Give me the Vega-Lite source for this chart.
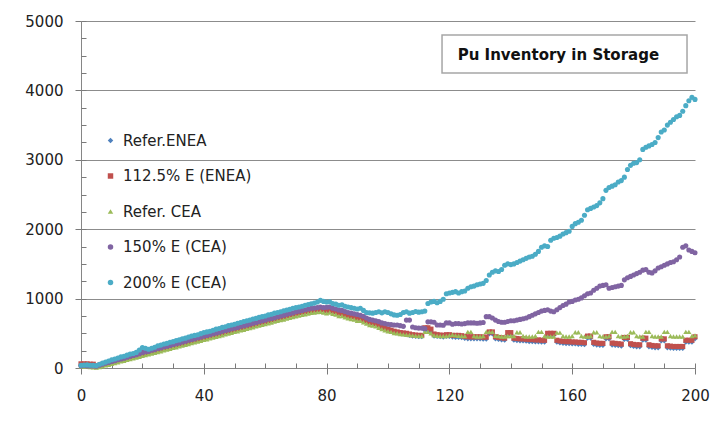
{
"$schema": "https://vega.github.io/schema/vega-lite/v6.json",
"width": 614, "height": 347,
"autosize": {"type": "none"},
"padding": {"left": 81, "top": 21, "right": 20, "bottom": 63},
"background": "white",
"config": {"view": {"stroke": null}, "font": "DejaVu Sans"},
"datasets": {
"refEnea": [{"t":0,"v":40},{"t":1,"v":40},{"t":2,"v":38},{"t":3,"v":35},{"t":4,"v":30},{"t":5,"v":20},{"t":6,"v":35},{"t":7,"v":48},{"t":8,"v":60},{"t":9,"v":72},
{"t":10,"v":85},{"t":11,"v":97},{"t":12,"v":108},{"t":13,"v":120},{"t":14,"v":132},{"t":15,"v":144},{"t":16,"v":155},{"t":17,"v":167},{"t":18,"v":180},{"t":19,"v":192},
{"t":20,"v":203},{"t":21,"v":212},{"t":22,"v":222},{"t":23,"v":235},{"t":24,"v":246},{"t":25,"v":258},{"t":26,"v":270},{"t":27,"v":280},{"t":28,"v":292},{"t":29,"v":304},
{"t":30,"v":315},{"t":31,"v":327},{"t":32,"v":340},{"t":33,"v":350},{"t":34,"v":362},{"t":35,"v":375},{"t":36,"v":385},{"t":37,"v":397},{"t":38,"v":410},{"t":39,"v":420},
{"t":40,"v":432},{"t":41,"v":444},{"t":42,"v":455},{"t":43,"v":467},{"t":44,"v":480},{"t":45,"v":490},{"t":46,"v":502},{"t":47,"v":514},{"t":48,"v":525},{"t":49,"v":537},
{"t":50,"v":550},{"t":51,"v":560},{"t":52,"v":572},{"t":53,"v":584},{"t":54,"v":595},{"t":55,"v":607},{"t":56,"v":620},{"t":57,"v":630},{"t":58,"v":642},{"t":59,"v":655},
{"t":60,"v":665},{"t":61,"v":677},{"t":62,"v":690},{"t":63,"v":700},{"t":64,"v":712},{"t":65,"v":725},{"t":66,"v":735},{"t":67,"v":747},{"t":68,"v":760},{"t":69,"v":770},
{"t":70,"v":782},{"t":71,"v":795},{"t":72,"v":800},{"t":73,"v":810},{"t":74,"v":815},{"t":75,"v":825},{"t":76,"v":830},{"t":77,"v":835},{"t":78,"v":845},{"t":79,"v":835},
{"t":80,"v":825},{"t":81,"v":835},{"t":82,"v":815},{"t":83,"v":800},{"t":84,"v":785},{"t":85,"v":780},{"t":86,"v":760},{"t":87,"v":750},{"t":88,"v":735},{"t":89,"v":730},
{"t":90,"v":710},{"t":91,"v":705},{"t":92,"v":690},{"t":93,"v":670},{"t":94,"v":650},{"t":95,"v":640},{"t":96,"v":625},{"t":97,"v":605},{"t":98,"v":585},{"t":99,"v":565},
{"t":100,"v":545},{"t":101,"v":530},{"t":102,"v":515},{"t":103,"v":505},{"t":104,"v":495},{"t":105,"v":490},{"t":106,"v":480},{"t":107,"v":470},{"t":108,"v":460},{"t":109,"v":455},
{"t":110,"v":450},{"t":111,"v":450},{"t":112,"v":540},{"t":113,"v":540},{"t":114,"v":520},{"t":115,"v":460},{"t":116,"v":455},{"t":117,"v":450},{"t":118,"v":445},{"t":119,"v":455},
{"t":120,"v":455},{"t":121,"v":445},{"t":122,"v":440},{"t":123,"v":440},{"t":124,"v":435},{"t":125,"v":425},{"t":126,"v":420},{"t":127,"v":420},{"t":128,"v":420},{"t":129,"v":420},
{"t":130,"v":420},{"t":131,"v":415},{"t":132,"v":415},{"t":133,"v":490},{"t":134,"v":490},{"t":135,"v":420},{"t":136,"v":410},{"t":137,"v":405},{"t":138,"v":400},{"t":139,"v":480},
{"t":140,"v":480},{"t":141,"v":400},{"t":142,"v":395},{"t":143,"v":390},{"t":144,"v":390},{"t":145,"v":385},{"t":146,"v":380},{"t":147,"v":380},{"t":148,"v":375},{"t":149,"v":375},
{"t":150,"v":370},{"t":151,"v":370},{"t":152,"v":470},{"t":153,"v":470},{"t":154,"v":470},{"t":155,"v":370},{"t":156,"v":360},{"t":157,"v":355},{"t":158,"v":350},{"t":159,"v":350},
{"t":160,"v":345},{"t":161,"v":345},{"t":162,"v":340},{"t":163,"v":340},{"t":164,"v":335},{"t":165,"v":430},{"t":166,"v":430},{"t":167,"v":340},{"t":168,"v":330},{"t":169,"v":325},
{"t":170,"v":325},{"t":171,"v":420},{"t":172,"v":420},{"t":173,"v":330},{"t":174,"v":325},{"t":175,"v":320},{"t":176,"v":315},{"t":177,"v":410},{"t":178,"v":410},{"t":179,"v":320},
{"t":180,"v":310},{"t":181,"v":305},{"t":182,"v":305},{"t":183,"v":400},{"t":184,"v":400},{"t":185,"v":305},{"t":186,"v":295},{"t":187,"v":290},{"t":188,"v":290},{"t":189,"v":390},
{"t":190,"v":390},{"t":191,"v":290},{"t":192,"v":285},{"t":193,"v":280},{"t":194,"v":280},{"t":195,"v":280},{"t":196,"v":280},{"t":197,"v":370},{"t":198,"v":370},{"t":199,"v":370},
{"t":200,"v":420}],
"e1125": [{"t":0,"v":60},{"t":1,"v":60},{"t":2,"v":60},{"t":3,"v":55},{"t":4,"v":55},{"t":5,"v":30},{"t":6,"v":40},{"t":7,"v":52},{"t":8,"v":65},{"t":9,"v":78},
{"t":10,"v":90},{"t":11,"v":100},{"t":12,"v":112},{"t":13,"v":125},{"t":14,"v":135},{"t":15,"v":148},{"t":16,"v":160},{"t":17,"v":170},{"t":18,"v":185},{"t":19,"v":200},
{"t":20,"v":210},{"t":21,"v":215},{"t":22,"v":225},{"t":23,"v":240},{"t":24,"v":250},{"t":25,"v":262},{"t":26,"v":275},{"t":27,"v":285},{"t":28,"v":298},{"t":29,"v":310},
{"t":30,"v":320},{"t":31,"v":332},{"t":32,"v":345},{"t":33,"v":355},{"t":34,"v":368},{"t":35,"v":380},{"t":36,"v":390},{"t":37,"v":402},{"t":38,"v":415},{"t":39,"v":425},
{"t":40,"v":438},{"t":41,"v":450},{"t":42,"v":460},{"t":43,"v":472},{"t":44,"v":485},{"t":45,"v":495},{"t":46,"v":508},{"t":47,"v":520},{"t":48,"v":530},{"t":49,"v":542},
{"t":50,"v":555},{"t":51,"v":565},{"t":52,"v":578},{"t":53,"v":590},{"t":54,"v":600},{"t":55,"v":612},{"t":56,"v":625},{"t":57,"v":635},{"t":58,"v":648},{"t":59,"v":660},
{"t":60,"v":670},{"t":61,"v":682},{"t":62,"v":695},{"t":63,"v":705},{"t":64,"v":718},{"t":65,"v":730},{"t":66,"v":740},{"t":67,"v":752},{"t":68,"v":765},{"t":69,"v":775},
{"t":70,"v":788},{"t":71,"v":800},{"t":72,"v":805},{"t":73,"v":815},{"t":74,"v":820},{"t":75,"v":830},{"t":76,"v":835},{"t":77,"v":840},{"t":78,"v":850},{"t":79,"v":840},
{"t":80,"v":830},{"t":81,"v":845},{"t":82,"v":820},{"t":83,"v":810},{"t":84,"v":790},{"t":85,"v":790},{"t":86,"v":770},{"t":87,"v":760},{"t":88,"v":745},{"t":89,"v":740},
{"t":90,"v":720},{"t":91,"v":720},{"t":92,"v":700},{"t":93,"v":680},{"t":94,"v":660},{"t":95,"v":650},{"t":96,"v":640},{"t":97,"v":620},{"t":98,"v":600},{"t":99,"v":580},
{"t":100,"v":560},{"t":101,"v":545},{"t":102,"v":530},{"t":103,"v":520},{"t":104,"v":510},{"t":105,"v":505},{"t":106,"v":500},{"t":107,"v":490},{"t":108,"v":480},{"t":109,"v":475},
{"t":110,"v":470},{"t":111,"v":470},{"t":112,"v":580},{"t":113,"v":580},{"t":114,"v":560},{"t":115,"v":490},{"t":116,"v":480},{"t":117,"v":475},{"t":118,"v":470},{"t":119,"v":480},
{"t":120,"v":480},{"t":121,"v":470},{"t":122,"v":470},{"t":123,"v":470},{"t":124,"v":465},{"t":125,"v":455},{"t":126,"v":450},{"t":127,"v":450},{"t":128,"v":450},{"t":129,"v":450},
{"t":130,"v":450},{"t":131,"v":445},{"t":132,"v":445},{"t":133,"v":520},{"t":134,"v":520},{"t":135,"v":450},{"t":136,"v":440},{"t":137,"v":435},{"t":138,"v":430},{"t":139,"v":510},
{"t":140,"v":510},{"t":141,"v":430},{"t":142,"v":425},{"t":143,"v":420},{"t":144,"v":420},{"t":145,"v":415},{"t":146,"v":410},{"t":147,"v":410},{"t":148,"v":405},{"t":149,"v":405},
{"t":150,"v":400},{"t":151,"v":400},{"t":152,"v":500},{"t":153,"v":500},{"t":154,"v":500},{"t":155,"v":400},{"t":156,"v":390},{"t":157,"v":385},{"t":158,"v":380},{"t":159,"v":380},
{"t":160,"v":375},{"t":161,"v":375},{"t":162,"v":370},{"t":163,"v":370},{"t":164,"v":365},{"t":165,"v":460},{"t":166,"v":460},{"t":167,"v":370},{"t":168,"v":360},{"t":169,"v":355},
{"t":170,"v":355},{"t":171,"v":450},{"t":172,"v":450},{"t":173,"v":360},{"t":174,"v":355},{"t":175,"v":350},{"t":176,"v":345},{"t":177,"v":440},{"t":178,"v":440},{"t":179,"v":350},
{"t":180,"v":340},{"t":181,"v":335},{"t":182,"v":335},{"t":183,"v":430},{"t":184,"v":430},{"t":185,"v":335},{"t":186,"v":325},{"t":187,"v":320},{"t":188,"v":320},{"t":189,"v":420},
{"t":190,"v":420},{"t":191,"v":320},{"t":192,"v":315},{"t":193,"v":310},{"t":194,"v":310},{"t":195,"v":310},{"t":196,"v":310},{"t":197,"v":400},{"t":198,"v":400},{"t":199,"v":400},
{"t":200,"v":450}],
"refCea": [{"t":0,"v":20},{"t":1,"v":20},{"t":2,"v":18},{"t":3,"v":15},{"t":4,"v":12},{"t":5,"v":5},{"t":6,"v":15},{"t":7,"v":25},{"t":8,"v":38},{"t":9,"v":48},
{"t":10,"v":60},{"t":11,"v":70},{"t":12,"v":82},{"t":13,"v":95},{"t":14,"v":105},{"t":15,"v":118},{"t":16,"v":128},{"t":17,"v":140},{"t":18,"v":150},{"t":19,"v":162},
{"t":20,"v":175},{"t":21,"v":185},{"t":22,"v":198},{"t":23,"v":208},{"t":24,"v":220},{"t":25,"v":230},{"t":26,"v":242},{"t":27,"v":255},{"t":28,"v":265},{"t":29,"v":278},
{"t":30,"v":290},{"t":31,"v":300},{"t":32,"v":312},{"t":33,"v":322},{"t":34,"v":335},{"t":35,"v":345},{"t":36,"v":358},{"t":37,"v":370},{"t":38,"v":380},{"t":39,"v":392},
{"t":40,"v":405},{"t":41,"v":415},{"t":42,"v":428},{"t":43,"v":440},{"t":44,"v":450},{"t":45,"v":462},{"t":46,"v":472},{"t":47,"v":485},{"t":48,"v":495},{"t":49,"v":508},
{"t":50,"v":520},{"t":51,"v":530},{"t":52,"v":542},{"t":53,"v":552},{"t":54,"v":565},{"t":55,"v":575},{"t":56,"v":588},{"t":57,"v":600},{"t":58,"v":610},{"t":59,"v":622},
{"t":60,"v":632},{"t":61,"v":645},{"t":62,"v":655},{"t":63,"v":668},{"t":64,"v":680},{"t":65,"v":690},{"t":66,"v":700},{"t":67,"v":712},{"t":68,"v":722},{"t":69,"v":735},
{"t":70,"v":745},{"t":71,"v":755},{"t":72,"v":765},{"t":73,"v":775},{"t":74,"v":785},{"t":75,"v":795},{"t":76,"v":800},{"t":77,"v":805},{"t":78,"v":810},{"t":79,"v":800},
{"t":80,"v":790},{"t":81,"v":800},{"t":82,"v":780},{"t":83,"v":770},{"t":84,"v":750},{"t":85,"v":750},{"t":86,"v":730},{"t":87,"v":715},{"t":88,"v":705},{"t":89,"v":700},
{"t":90,"v":680},{"t":91,"v":680},{"t":92,"v":660},{"t":93,"v":640},{"t":94,"v":620},{"t":95,"v":610},{"t":96,"v":600},{"t":97,"v":580},{"t":98,"v":560},{"t":99,"v":545},
{"t":100,"v":530},{"t":101,"v":520},{"t":102,"v":505},{"t":103,"v":500},{"t":104,"v":490},{"t":105,"v":485},{"t":106,"v":480},{"t":107,"v":475},{"t":108,"v":470},{"t":109,"v":465},
{"t":110,"v":460},{"t":111,"v":460},{"t":112,"v":520},{"t":113,"v":520},{"t":114,"v":500},{"t":115,"v":470},{"t":116,"v":465},{"t":117,"v":460},{"t":118,"v":460},{"t":119,"v":460},
{"t":120,"v":470},{"t":121,"v":480},{"t":122,"v":470},{"t":123,"v":465},{"t":124,"v":460},{"t":125,"v":460},{"t":126,"v":520},{"t":127,"v":520},{"t":128,"v":460},{"t":129,"v":455},
{"t":130,"v":455},{"t":131,"v":460},{"t":132,"v":520},{"t":133,"v":520},{"t":134,"v":520},{"t":135,"v":465},{"t":136,"v":460},{"t":137,"v":455},{"t":138,"v":455},{"t":139,"v":460},
{"t":140,"v":460},{"t":141,"v":460},{"t":142,"v":515},{"t":143,"v":515},{"t":144,"v":460},{"t":145,"v":455},{"t":146,"v":455},{"t":147,"v":455},{"t":148,"v":460},{"t":149,"v":520},
{"t":150,"v":520},{"t":151,"v":460},{"t":152,"v":455},{"t":153,"v":455},{"t":154,"v":455},{"t":155,"v":510},{"t":156,"v":510},{"t":157,"v":460},{"t":158,"v":455},{"t":159,"v":455},
{"t":160,"v":460},{"t":161,"v":515},{"t":162,"v":515},{"t":163,"v":460},{"t":164,"v":455},{"t":165,"v":455},{"t":166,"v":460},{"t":167,"v":515},{"t":168,"v":515},{"t":169,"v":460},
{"t":170,"v":455},{"t":171,"v":455},{"t":172,"v":460},{"t":173,"v":520},{"t":174,"v":520},{"t":175,"v":460},{"t":176,"v":455},{"t":177,"v":455},{"t":178,"v":460},{"t":179,"v":515},
{"t":180,"v":515},{"t":181,"v":460},{"t":182,"v":455},{"t":183,"v":455},{"t":184,"v":520},{"t":185,"v":520},{"t":186,"v":460},{"t":187,"v":455},{"t":188,"v":455},{"t":189,"v":455},
{"t":190,"v":520},{"t":191,"v":520},{"t":192,"v":460},{"t":193,"v":455},{"t":194,"v":455},{"t":195,"v":455},{"t":196,"v":455},{"t":197,"v":520},{"t":198,"v":520},{"t":199,"v":460},
{"t":200,"v":470}],
"e150": [{"t":0,"v":30},{"t":1,"v":35},{"t":2,"v":30},{"t":3,"v":30},{"t":4,"v":28},{"t":5,"v":25},{"t":6,"v":40},{"t":7,"v":55},{"t":8,"v":68},{"t":9,"v":80},
{"t":10,"v":95},{"t":11,"v":105},{"t":12,"v":118},{"t":13,"v":130},{"t":14,"v":140},{"t":15,"v":155},{"t":16,"v":168},{"t":17,"v":180},{"t":18,"v":190},{"t":19,"v":205},
{"t":20,"v":225},{"t":21,"v":235},{"t":22,"v":240},{"t":23,"v":255},{"t":24,"v":265},{"t":25,"v":280},{"t":26,"v":290},{"t":27,"v":305},{"t":28,"v":315},{"t":29,"v":325},
{"t":30,"v":340},{"t":31,"v":350},{"t":32,"v":360},{"t":33,"v":375},{"t":34,"v":385},{"t":35,"v":400},{"t":36,"v":410},{"t":37,"v":420},{"t":38,"v":435},{"t":39,"v":445},
{"t":40,"v":460},{"t":41,"v":470},{"t":42,"v":480},{"t":43,"v":495},{"t":44,"v":505},{"t":45,"v":515},{"t":46,"v":530},{"t":47,"v":540},{"t":48,"v":550},{"t":49,"v":565},
{"t":50,"v":575},{"t":51,"v":585},{"t":52,"v":600},{"t":53,"v":610},{"t":54,"v":620},{"t":55,"v":635},{"t":56,"v":645},{"t":57,"v":655},{"t":58,"v":670},{"t":59,"v":680},
{"t":60,"v":690},{"t":61,"v":705},{"t":62,"v":715},{"t":63,"v":725},{"t":64,"v":740},{"t":65,"v":750},{"t":66,"v":760},{"t":67,"v":775},{"t":68,"v":785},{"t":69,"v":795},
{"t":70,"v":810},{"t":71,"v":820},{"t":72,"v":830},{"t":73,"v":840},{"t":74,"v":850},{"t":75,"v":860},{"t":76,"v":865},{"t":77,"v":870},{"t":78,"v":880},{"t":79,"v":870},
{"t":80,"v":875},{"t":81,"v":880},{"t":82,"v":860},{"t":83,"v":850},{"t":84,"v":835},{"t":85,"v":830},{"t":86,"v":815},{"t":87,"v":800},{"t":88,"v":790},{"t":89,"v":780},
{"t":90,"v":770},{"t":91,"v":760},{"t":92,"v":745},{"t":93,"v":720},{"t":94,"v":700},{"t":95,"v":690},{"t":96,"v":680},{"t":97,"v":670},{"t":98,"v":650},{"t":99,"v":640},
{"t":100,"v":630},{"t":101,"v":625},{"t":102,"v":620},{"t":103,"v":620},{"t":104,"v":610},{"t":105,"v":600},{"t":106,"v":690},{"t":107,"v":690},{"t":108,"v":590},{"t":109,"v":580},
{"t":110,"v":575},{"t":111,"v":575},{"t":112,"v":570},{"t":113,"v":665},{"t":114,"v":665},{"t":115,"v":660},{"t":116,"v":620},{"t":117,"v":620},{"t":118,"v":615},{"t":119,"v":650},
{"t":120,"v":650},{"t":121,"v":630},{"t":122,"v":640},{"t":123,"v":640},{"t":124,"v":635},{"t":125,"v":640},{"t":126,"v":650},{"t":127,"v":650},{"t":128,"v":650},{"t":129,"v":645},
{"t":130,"v":650},{"t":131,"v":655},{"t":132,"v":740},{"t":133,"v":740},{"t":134,"v":720},{"t":135,"v":690},{"t":136,"v":670},{"t":137,"v":660},{"t":138,"v":660},{"t":139,"v":670},
{"t":140,"v":680},{"t":141,"v":680},{"t":142,"v":690},{"t":143,"v":700},{"t":144,"v":710},{"t":145,"v":720},{"t":146,"v":740},{"t":147,"v":760},{"t":148,"v":780},{"t":149,"v":800},
{"t":150,"v":820},{"t":151,"v":830},{"t":152,"v":840},{"t":153,"v":820},{"t":154,"v":810},{"t":155,"v":840},{"t":156,"v":870},{"t":157,"v":900},{"t":158,"v":920},{"t":159,"v":950},
{"t":160,"v":960},{"t":161,"v":980},{"t":162,"v":990},{"t":163,"v":1010},{"t":164,"v":1040},{"t":165,"v":1070},{"t":166,"v":1080},{"t":167,"v":1120},{"t":168,"v":1150},{"t":169,"v":1180},
{"t":170,"v":1190},{"t":171,"v":1200},{"t":172,"v":1150},{"t":173,"v":1160},{"t":174,"v":1170},{"t":175,"v":1180},{"t":176,"v":1190},{"t":177,"v":1270},{"t":178,"v":1300},{"t":179,"v":1320},
{"t":180,"v":1340},{"t":181,"v":1360},{"t":182,"v":1380},{"t":183,"v":1410},{"t":184,"v":1420},{"t":185,"v":1380},{"t":186,"v":1370},{"t":187,"v":1400},{"t":188,"v":1440},{"t":189,"v":1460},
{"t":190,"v":1480},{"t":191,"v":1500},{"t":192,"v":1520},{"t":193,"v":1530},{"t":194,"v":1560},{"t":195,"v":1600},{"t":196,"v":1740},{"t":197,"v":1760},{"t":198,"v":1700},{"t":199,"v":1680},
{"t":200,"v":1660}],
"e200": [{"t":0,"v":40},{"t":1,"v":42},{"t":2,"v":45},{"t":3,"v":40},{"t":4,"v":38},{"t":5,"v":35},{"t":6,"v":55},{"t":7,"v":70},{"t":8,"v":85},{"t":9,"v":100},
{"t":10,"v":118},{"t":11,"v":130},{"t":12,"v":145},{"t":13,"v":160},{"t":14,"v":170},{"t":15,"v":185},{"t":16,"v":200},{"t":17,"v":210},{"t":18,"v":225},{"t":19,"v":260},
{"t":20,"v":295},{"t":21,"v":285},{"t":22,"v":270},{"t":23,"v":285},{"t":24,"v":300},{"t":25,"v":320},{"t":26,"v":330},{"t":27,"v":345},{"t":28,"v":355},{"t":29,"v":370},
{"t":30,"v":380},{"t":31,"v":395},{"t":32,"v":405},{"t":33,"v":420},{"t":34,"v":430},{"t":35,"v":445},{"t":36,"v":460},{"t":37,"v":470},{"t":38,"v":480},{"t":39,"v":495},
{"t":40,"v":510},{"t":41,"v":520},{"t":42,"v":530},{"t":43,"v":545},{"t":44,"v":560},{"t":45,"v":570},{"t":46,"v":585},{"t":47,"v":595},{"t":48,"v":610},{"t":49,"v":620},
{"t":50,"v":630},{"t":51,"v":645},{"t":52,"v":655},{"t":53,"v":670},{"t":54,"v":680},{"t":55,"v":690},{"t":56,"v":705},{"t":57,"v":715},{"t":58,"v":730},{"t":59,"v":740},
{"t":60,"v":750},{"t":61,"v":765},{"t":62,"v":775},{"t":63,"v":790},{"t":64,"v":800},{"t":65,"v":810},{"t":66,"v":825},{"t":67,"v":835},{"t":68,"v":845},{"t":69,"v":860},
{"t":70,"v":870},{"t":71,"v":880},{"t":72,"v":890},{"t":73,"v":905},{"t":74,"v":915},{"t":75,"v":925},{"t":76,"v":935},{"t":77,"v":950},{"t":78,"v":975},{"t":79,"v":960},
{"t":80,"v":950},{"t":81,"v":955},{"t":82,"v":930},{"t":83,"v":920},{"t":84,"v":905},{"t":85,"v":910},{"t":86,"v":890},{"t":87,"v":880},{"t":88,"v":870},{"t":89,"v":860},
{"t":90,"v":850},{"t":91,"v":860},{"t":92,"v":830},{"t":93,"v":800},{"t":94,"v":795},{"t":95,"v":790},{"t":96,"v":800},{"t":97,"v":810},{"t":98,"v":795},{"t":99,"v":810},
{"t":100,"v":800},{"t":101,"v":780},{"t":102,"v":765},{"t":103,"v":760},{"t":104,"v":770},{"t":105,"v":800},{"t":106,"v":810},{"t":107,"v":790},{"t":108,"v":800},{"t":109,"v":815},
{"t":110,"v":805},{"t":111,"v":810},{"t":112,"v":820},{"t":113,"v":930},{"t":114,"v":950},{"t":115,"v":960},{"t":116,"v":940},{"t":117,"v":960},{"t":118,"v":990},{"t":119,"v":1070},
{"t":120,"v":1080},{"t":121,"v":1090},{"t":122,"v":1100},{"t":123,"v":1080},{"t":124,"v":1100},{"t":125,"v":1110},{"t":126,"v":1150},{"t":127,"v":1170},{"t":128,"v":1180},{"t":129,"v":1200},
{"t":130,"v":1210},{"t":131,"v":1220},{"t":132,"v":1260},{"t":133,"v":1340},{"t":134,"v":1380},{"t":135,"v":1400},{"t":136,"v":1390},{"t":137,"v":1420},{"t":138,"v":1480},{"t":139,"v":1500},
{"t":140,"v":1490},{"t":141,"v":1500},{"t":142,"v":1520},{"t":143,"v":1540},{"t":144,"v":1560},{"t":145,"v":1580},{"t":146,"v":1600},{"t":147,"v":1610},{"t":148,"v":1640},{"t":149,"v":1680},
{"t":150,"v":1740},{"t":151,"v":1760},{"t":152,"v":1750},{"t":153,"v":1840},{"t":154,"v":1870},{"t":155,"v":1880},{"t":156,"v":1900},{"t":157,"v":1930},{"t":158,"v":1950},{"t":159,"v":1970},
{"t":160,"v":2040},{"t":161,"v":2080},{"t":162,"v":2100},{"t":163,"v":2130},{"t":164,"v":2200},{"t":165,"v":2280},{"t":166,"v":2300},{"t":167,"v":2320},{"t":168,"v":2340},{"t":169,"v":2380},
{"t":170,"v":2440},{"t":171,"v":2560},{"t":172,"v":2600},{"t":173,"v":2620},{"t":174,"v":2640},{"t":175,"v":2680},{"t":176,"v":2700},{"t":177,"v":2750},{"t":178,"v":2860},{"t":179,"v":2920},
{"t":180,"v":2950},{"t":181,"v":2960},{"t":182,"v":3000},{"t":183,"v":3150},{"t":184,"v":3180},{"t":185,"v":3200},{"t":186,"v":3220},{"t":187,"v":3250},{"t":188,"v":3320},{"t":189,"v":3400},
{"t":190,"v":3430},{"t":191,"v":3500},{"t":192,"v":3540},{"t":193,"v":3580},{"t":194,"v":3620},{"t":195,"v":3640},{"t":196,"v":3700},{"t":197,"v":3780},{"t":198,"v":3850},{"t":199,"v":3900},
{"t":200,"v":3870}],
"box": [{"label": "Pu Inventory in Storage"}]
},
"layer": [
{"layer": [
 {"data": {"name": "refEnea"},
  "mark": {"type": "point", "filled": true, "size": 26, "opacity": 1},
  "encoding": {
   "x": {"field": "t", "type": "quantitative", "title": null, "scale": {"domain": [0, 200], "nice": false, "zero": false},
         "axis": {"values": [0, 40, 80, 120, 160, 200], "grid": false, "domainColor": "#868686", "tickColor": "#7a7a7a", "tickSize": 6, "labelFont": "DejaVu Sans", "labelFontSize": 15, "labelColor": "#222222", "labelPadding": 14, "labelFlush": false, "labelOverlap": false}},
   "y": {"field": "v", "type": "quantitative", "title": null, "scale": {"domain": [0, 5000], "nice": false},
         "axis": {"values": [0, 1000, 2000, 3000, 4000, 5000], "format": "d", "grid": true, "gridColor": "#8c8c8c", "gridWidth": 1, "domainColor": "#868686", "tickColor": "#7a7a7a", "tickSize": 6, "labelFont": "DejaVu Sans", "labelFontSize": 15, "labelColor": "#222222", "labelPadding": 12, "labelOverlap": false}},
   "color": {"datum": "Refer.ENEA", "type": "nominal",
             "scale": {"domain": ["Refer.ENEA", "112.5% E (ENEA)", "Refer. CEA", "150% E (CEA)", "200% E (CEA)"], "range": ["#4F81BD", "#C0504D", "#9BBB59", "#8064A2", "#4BACC6"]},
             "legend": {"title": null, "orient": "none", "legendX": 22, "legendY": 112, "labelFont": "DejaVu Sans", "labelFontSize": 15, "labelColor": "#222222", "symbolSize": 30, "rowPadding": 19.5, "labelOffset": 5, "padding": 0}},
   "shape": {"datum": "Refer.ENEA", "type": "nominal",
             "scale": {"domain": ["Refer.ENEA", "112.5% E (ENEA)", "Refer. CEA", "150% E (CEA)", "200% E (CEA)"], "range": ["diamond", "square", "triangle-up", "circle", "circle"]},
             "legend": {"title": null, "orient": "none", "legendX": 22, "legendY": 112, "labelFont": "DejaVu Sans", "labelFontSize": 15, "labelColor": "#222222", "symbolSize": 30, "rowPadding": 19.5, "labelOffset": 5, "padding": 0}}
  }},
 {"data": {"name": "e1125"},
  "mark": {"type": "point", "filled": true, "size": 26, "opacity": 1},
  "encoding": {"x": {"field": "t", "type": "quantitative", "title": null}, "y": {"field": "v", "type": "quantitative", "title": null},
   "color": {"datum": "112.5% E (ENEA)", "type": "nominal"}, "shape": {"datum": "112.5% E (ENEA)", "type": "nominal"}}},
 {"data": {"name": "refCea"},
  "mark": {"type": "point", "filled": true, "size": 26, "opacity": 1},
  "encoding": {"x": {"field": "t", "type": "quantitative", "title": null}, "y": {"field": "v", "type": "quantitative", "title": null},
   "color": {"datum": "Refer. CEA", "type": "nominal"}, "shape": {"datum": "Refer. CEA", "type": "nominal"}}},
 {"data": {"name": "e150"},
  "mark": {"type": "point", "filled": true, "size": 26, "opacity": 1},
  "encoding": {"x": {"field": "t", "type": "quantitative", "title": null}, "y": {"field": "v", "type": "quantitative", "title": null},
   "color": {"datum": "150% E (CEA)", "type": "nominal"}, "shape": {"datum": "150% E (CEA)", "type": "nominal"}}},
 {"data": {"name": "e200"},
  "mark": {"type": "point", "filled": true, "size": 26, "opacity": 1},
  "encoding": {"x": {"field": "t", "type": "quantitative", "title": null}, "y": {"field": "v", "type": "quantitative", "title": null},
   "color": {"datum": "200% E (CEA)", "type": "nominal"}, "shape": {"datum": "200% E (CEA)", "type": "nominal"}}},
 {"data": {"name": "box"},
  "mark": {"type": "rect", "fill": "white", "stroke": "#a6a6a6", "strokeWidth": 1.5},
  "encoding": {"x": {"datum": 117.6, "type": "quantitative", "title": null}, "x2": {"datum": 197.4},
               "y": {"datum": 4798, "type": "quantitative", "title": null}, "y2": {"datum": 4251}}}
]},
{"data": {"name": "box"},
 "mark": {"type": "text", "font": "DejaVu Sans", "fontSize": 15, "fontWeight": "bold", "color": "#111111", "align": "center", "baseline": "middle"},
 "encoding": {
  "text": {"field": "label", "type": "nominal"},
  "x": {"datum": 155.5, "type": "quantitative", "title": null,
        "axis": {"orient": "bottom", "offset": -5, "values": [10,20,30,40,50,60,70,80,90,100,110,120,130,140,150,160,170,180,190,200], "labels": false, "domain": false, "grid": false, "ticks": true, "tickSize": 5, "tickColor": "#7a7a7a", "tickWidth": 1, "title": null}},
  "y": {"datum": 4510, "type": "quantitative", "title": null,
        "axis": {"orient": "left", "values": [250,500,750,1000,1250,1500,1750,2000,2250,2500,2750,3000,3250,3500,3750,4000,4250,4500,4750,5000], "labels": false, "domain": false, "grid": false, "tickSize": -5, "tickColor": "#7a7a7a", "title": null}}
 }}
],
"resolve": {"axis": {"x": "independent", "y": "independent"}}
}
